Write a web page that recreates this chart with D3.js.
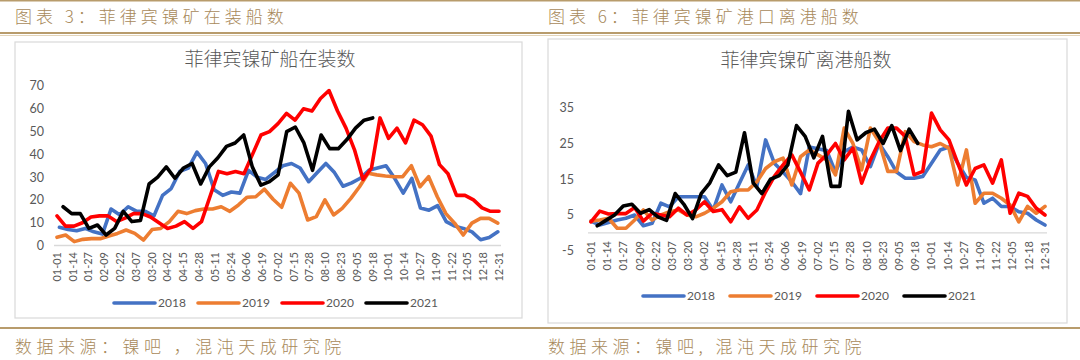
<!DOCTYPE html>
<html>
<head>
<meta charset="utf-8">
<script src="https://d3js.org/d3.v7.min.js"></script>
<style>
  body { margin: 0; background: #fff; }
  text { font-family: Lato, "Noto Sans CJK SC", sans-serif; }
</style>
</head>
<body>
<svg id="chart" width="1080" height="360"></svg>
<script>
// ---- data ----
const dateTicks = ["01-01","01-14","01-27","02-09","02-22","03-07","03-20","04-02","04-15","04-28",
  "05-11","05-24","06-06","06-19","07-02","07-15","07-28","08-10","08-23","09-05","09-18",
  "10-01","10-14","10-27","11-09","11-22","12-05","12-18","12-31"];
const years = ["2018", "2019", "2020", "2021"];
const colors = ["#4472C4", "#ED7D31", "#FF0000", "#000000"];

// 在装船数 (weekly)
const loading2018 = [8,7,6.5,7.5,6,5,16,13.5,17,15,15,13,22,25,32.5,34,41,36,24.5,22,23.5,23,33,30,29,32,
  35,36,34,28,32,36,32,26,27.5,29.5,33,34,35,29.5,23,29.5,16.5,15.5,17.5,10.5,8.5,7.5,6,2.5,3.5,6];
const loading2019 = [3.6,4.6,1.7,2.7,3,3,4.2,5.3,6.8,5.3,2.4,7,7.5,10.5,15,14,15.3,16,16,17,15,17.8,21.2,21.4,
  24.7,20.3,16.8,27.3,23,11.2,12.7,20,13.4,16.3,20.7,25.8,31.7,31,30.5,30.2,30.2,35,25.8,30.2,21.4,14,9.8,4.6,9.8,11.9,11.9,9.8];
const loading2020 = [13,8.5,8.5,10,12.5,13,13,10.5,12,14,14,12.5,10,7.5,8.5,10.5,7.5,10.5,21.5,32.5,31.5,32.5,31.5,40,48.5,
  50,53.5,58,55,60,59,64.5,68,59,51.5,42,29,34,56,47,51.5,45,55,53,48,35.5,31.5,22,22,20,16.5,15,15];
const loading2021 = [17,14,14,7.5,9,4.6,7.5,15,10.5,11,27,30,34.5,29.5,34,36,27,34.5,38.5,43.5,45,48.5,34.5,26.5,28,31,
  50,52,45,33,48.5,42.5,42.5,46.5,51.5,55,56];
// first and last day-of-year of each series
const loadingDays = [[2, 363], [0, 363], [0, 364], [5, 260]];

// 离港船数 (weekly)
const leaving2018 = [3.3,2.2,2.9,3.6,4.1,5,2,2.7,8.3,7.3,10.1,10.1,10.1,10.1,6.4,13.4,8.7,13.9,19,13,26,19.5,17,14.3,11,24,
  23.5,23,17,22.7,24,23.2,18.5,25,21.3,17,15.3,15.3,15.8,19.5,23.2,24,19.5,15.5,14.8,8.3,9.7,7.4,7.4,5.9,5.5,3.6,2.2];
const leaving2019 = [3.3,3.6,4.1,1.3,1.3,3.6,6.4,3.6,5,5.9,6.4,5,4.5,5.5,6.9,8.7,11.5,12,12,14.3,18,19.9,20.9,13.4,21.3,
  23.2,21.8,20.4,16.2,29.3,25,17.6,29.3,25.5,17.2,17.2,28.3,25.5,24.6,24.1,25,23.7,13.4,23.2,8.3,11.1,11.1,9.7,7.8,3.1,7.4,5.5,7.4];
const leaving2020 = [3.1,6.1,5.3,5.4,5.4,7.1,3.3,5.5,5,4.5,6.9,5,6.4,8.7,6,6.5,3.1,7.3,4.1,6.4,11.5,15.8,19,21.8,17,12,
  19.5,21.8,25,20.4,23.7,13.9,20.4,25.5,29.3,29.3,27,16.2,17.2,33.5,28.8,26,19.5,13.4,18,19,13.9,20.4,5.5,11.1,10.2,6.9,5];
const leaving2021 = [2,3.5,5,7.5,8,5.5,6.5,4.5,3.5,11,8,4,11,14,19,16,17,28,14,11,15,16,19,30,27,21,27,13,13,34,26,28,
  29,25,30,23,29,25];
const leavingDays = [[0, 364], [0, 364], [0, 364], [5, 262]];

const loadingTicks = [0, 10, 20, 30, 40, 50, 60, 70];
const leavingTicks = [-5, 5, 15, 25, 35];

// ---- drawing ----
const svg = d3.select("#chart");
const gold = "#b89c6c";
const goldText = "#a8895a";
const gray = "#595959";

svg.append("rect").attr("x", 0).attr("y", 0).attr("width", 1080).attr("height", 1.5).attr("fill", gold);
svg.append("rect").attr("x", 0).attr("y", 32).attr("width", 1080).attr("height", 2).attr("fill", gold);
svg.append("rect").attr("x", 0).attr("y", 35).attr("width", 1080).attr("height", 0.8).attr("fill", "#dccaa8");
svg.append("rect").attr("x", 0).attr("y", 327).attr("width", 1080).attr("height", 2).attr("fill", gold);

const headers = [
  {x: 15, text: "图表 3：菲律宾镍矿在装船数", src: "数据来源：镍吧 ，混沌天成研究院"},
  {x: 548, text: "图表 6：菲律宾镍矿港口离港船数", src: "数据来源：镍吧, 混沌天成研究院"}
];
headers.forEach(h => {
  svg.append("text").attr("x", h.x).attr("y", 23).text(h.text)
    .style("font-family", "'Noto Sans CJK SC'").style("font-size", "17px").style("font-weight", 300)
    .style("letter-spacing", "4px").attr("fill", goldText);
  svg.append("text").attr("x", h.x).attr("y", 353).text(h.src)
    .style("font-family", "'Noto Sans CJK SC'").style("font-size", "17px").style("font-weight", 300)
    .style("letter-spacing", "4.5px").attr("fill", goldText);
});

function drawPanel(p) {
  const g = svg.append("g");
  g.append("rect").attr("x", p.box[0]).attr("y", p.box[1]).attr("width", p.box[2]).attr("height", p.box[3])
    .attr("fill", "#fff").attr("stroke", "#d9d9d9").attr("stroke-width", 1.2);

  g.append("text").attr("x", p.titleX).attr("y", p.titleY).attr("text-anchor", "middle")
    .text(p.title).style("font-family", "'Noto Sans CJK SC'").style("font-size", "19px")
    .style("font-weight", 300).attr("fill", gray);

  const x = d3.scaleLinear().domain([0, 364]).range(p.xRange);
  const y = d3.scaleLinear().domain(p.yDomain).range(p.yRange);

  // y labels
  g.selectAll(".yl").data(p.yTicks).join("text")
    .attr("x", p.yLabelX).attr("y", d => y(d)).attr("dy", "0.35em").attr("text-anchor", "end")
    .text(d => d).style("font-size", "12.5px").attr("fill", gray);

  // axis line at 0
  g.append("line").attr("x1", p.xRange[0] - 3).attr("x2", p.xRange[1] + 2)
    .attr("y1", y(0)).attr("y2", y(0)).attr("stroke", "#d9d9d9").attr("stroke-width", 1.3);

  // x labels (every 13 days)
  g.selectAll(".xl").data(dateTicks).join("text")
    .attr("transform", (d, i) => `translate(${x(i * 13)},${p.xLabelY}) rotate(-90)`)
    .attr("dy", "0.35em").attr("text-anchor", "end")
    .text(d => d).style("font-size", "11px").attr("fill", gray);

  // series
  const line = d3.line().x(d => x(d[0])).y(d => y(d[1])).curve(d3.curveLinear);
  p.series.forEach((vals, s) => {
    const [d0, d1] = p.days[s];
    const pts = vals.map((v, i) => [d0 + i * (d1 - d0) / (vals.length - 1), v]);
    g.append("path").datum(pts).attr("d", line).attr("fill", "none")
      .attr("stroke", colors[s]).attr("stroke-width", 3.6)
      .attr("stroke-linejoin", "round").attr("stroke-linecap", "round");
  });

  // legend
  const lg = g.selectAll(".lg").data(years).join("g")
    .attr("transform", (d, i) => `translate(${p.legendX + i * p.legendStep},${p.legendY})`);
  lg.append("line").attr("x1", 0).attr("x2", 41).attr("stroke", (d, i) => colors[i])
    .attr("stroke-width", 3.6).attr("stroke-linecap", "round");
  lg.append("text").attr("x", 44).attr("dy", "0.35em").text(d => d)
    .style("font-size", "12px").attr("fill", gray);
}

drawPanel({
  box: [15, 42, 507, 276],
  title: "菲律宾镍矿船在装数", titleX: 270, titleY: 66,
  xRange: [57, 499], yDomain: [0, 70], yRange: [245.5, 86],
  yTicks: loadingTicks, yLabelX: 44, xLabelY: 252,
  series: [loading2018, loading2019, loading2020, loading2021], days: loadingDays,
  legendX: 114, legendStep: 84, legendY: 303
});

drawPanel({
  box: [548, 39, 519, 284],
  title: "菲律宾镍矿离港船数", titleX: 806, titleY: 67,
  xRange: [591, 1045], yDomain: [-5, 35], yRange: [250.8, 107.7],
  yTicks: leavingTicks, yLabelX: 574, xLabelY: 241,
  series: [leaving2018, leaving2019, leaving2020, leaving2021], days: leavingDays,
  legendX: 643, legendStep: 87, legendY: 296
});
</script>
</body>
</html>
